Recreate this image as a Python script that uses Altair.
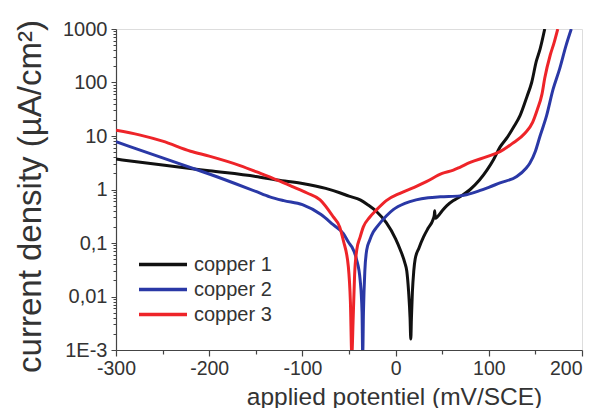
import altair as alt
import pandas as pd

series_names = ["copper 1", "copper 2", "copper 3"]
series_colors = ["#111111", "#2a38a6", "#ee2429"]

# copper 1 (black)
c1_mv = [-300, -250, -200, -150, -127, -100, -75, -60, -50, -38, -30, -20, -10, 0, 5, 10, 12, 14,
         15.5, 16.3, 17, 18, 19.5, 21, 25, 30, 35, 40, 41.5, 42, 42.5, 45, 50, 55, 62, 69, 80, 90,
         98, 105, 112, 120, 127, 133.5, 141, 146, 151, 155, 160]
c1_i = [3.7, 2.87, 2.24, 1.75, 1.5, 1.3, 1.05, 0.87, 0.75, 0.64, 0.52, 0.38, 0.24, 0.12, 0.075, 0.042,
        0.03, 0.012, 0.004, 0.0016, 0.004, 0.012, 0.03, 0.05, 0.08, 0.13, 0.19, 0.27, 0.33, 0.4, 0.29,
        0.31, 0.4, 0.5, 0.62, 0.73, 1.0, 1.5, 2.3, 3.6, 6.2, 9.5, 15, 24, 55, 100, 250, 420, 1000]

# copper 2 (blue)
c2_mv = [-300, -250, -207, -200, -150, -135, -120, -100, -80, -67, -56, -50, -47, -42, -38, -36,
         -35.3, -34.5, -33, -31, -28, -24, -20, -10, -2.5, 10, 22, 35, 48, 69, 76, 90, 100, 112, 130,
         140, 144, 150, 155, 162, 169, 176, 183, 188.5]
c2_i = [7.8, 3.9, 2.15, 1.95, 0.92, 0.73, 0.62, 0.52, 0.34, 0.22, 0.15, 0.1, 0.085, 0.05, 0.02, 0.005,
        0.0008, 0.005, 0.03, 0.074, 0.11, 0.16, 0.2, 0.32, 0.42, 0.55, 0.64, 0.7, 0.73, 0.76, 0.8, 0.95,
        1.1, 1.33, 1.75, 2.5, 3.1, 5.2, 10, 24, 75, 180, 500, 1000]

# copper 3 (red)
c3_mv = [-300, -275, -250, -220, -200, -167, -145, -127, -110, -95, -81, -67, -60, -56, -50.7, -48.5,
         -47, -45.5, -44, -41.7, -38, -34.6, -28, -20.3, -10, 4.7, 20, 33, 50, 62, 69, 80, 98, 112, 125,
         139, 147, 152, 157, 160, 166, 170, 174]
c3_i = [12.8, 10.5, 8.0, 5.2, 4.2, 2.8, 2.0, 1.5, 1.12, 0.86, 0.64, 0.31, 0.2, 0.11, 0.036, 0.008,
        0.0008, 0.004, 0.025, 0.074, 0.13, 0.2, 0.3, 0.42, 0.62, 0.85, 1.1, 1.4, 2.0, 2.3, 2.6, 3.2, 4.1,
        5.1, 7.2, 11.4, 18, 31, 60, 120, 330, 550, 1000]

x_ticks = [-300, -250, -200, -150, -100, -50, 0, 50, 100, 150, 200]
y_decades = [-3, -2, -1, 0, 1, 2, 3]
y_decade_labels = ["1E-3", "0,01", "0,1", "1", "10", "100", "1000"]
y_ticks = [m * 10.0 ** e for e in range(-3, 3) for m in range(1, 10)] + [1000.0]

rows = []
for name, xs, ys in zip(series_names, [c1_mv, c2_mv, c3_mv], [c1_i, c2_i, c3_i]):
    for k, (xv, yv) in enumerate(zip(xs, ys)):
        rows.append({"series": name, "potential": xv, "current": yv, "order": k})
df = pd.DataFrame(rows)

FONT = "Liberation Sans"
TXT = "#333333"

lg = "(log(datum.value)/LN10)"
is_decade = f"abs({lg} - round({lg})) < 0.001"
label_expr = "''"
for e, lab in zip(y_decades, y_decade_labels):
    label_expr = f"(round({lg}) == {e} ? '{lab}' : {label_expr})"
label_expr = f"({is_decade}) ? {label_expr} : ''"

x_major = "datum.value % 100 == 0"

chart = alt.Chart(df).mark_line(strokeWidth=3, clip=True, interpolate="monotone").encode(
    x=alt.X("potential:Q",
            scale=alt.Scale(domain=[-300, 200], nice=False, zero=False),
            axis=alt.Axis(values=x_ticks, labelExpr=f"{x_major} ? datum.value : ''",
                          tickSize={"condition": {"test": x_major, "value": 6}, "value": 4},
                          labelAlign={"condition": {"test": "datum.value == 200", "value": "right"},
                                      "value": "center"},
                          title="applied potentiel (mV/SCE)", titleFontSize=24.5, titleFont=FONT,
                          titleFontWeight="normal", titleColor=TXT, titleX=278, titleY=54,
                          titleBaseline="alphabetic", titleAnchor="middle", titleAlign="center",
                          labelFontSize=19.5, labelFont=FONT, labelColor=TXT, labelPadding=3,
                          labelOverlap=False, labelFlush=False,
                          grid=False, domainColor="#444444", tickColor="#444444",
                          domainWidth=1.2, tickWidth=1.2)),
    y=alt.Y("current:Q",
            scale=alt.Scale(type="log", domain=[0.001, 1000], nice=False),
            axis=alt.Axis(values=y_ticks, labelExpr=label_expr,
                          tickSize={"condition": {"test": is_decade, "value": 5}, "value": 3},
                          title="current density (µA/cm²)", titleFontSize=33, titleFont=FONT,
                          titleFontWeight="normal", titleColor=TXT, titleAngle=270,
                          titleX=-76, titleY=167, titleBaseline="alphabetic", titleAlign="center",
                          labelFontSize=20, labelFont=FONT, labelColor=TXT, labelPadding=4,
                          labelOverlap=False, labelFlush=False,
                          grid=False, domainColor="#444444", tickColor="#444444",
                          domainWidth=1.2, tickWidth=1.0)),
    color=alt.Color("series:N",
                    scale=alt.Scale(domain=series_names, range=series_colors),
                    legend=alt.Legend(orient="none", legendX=21, legendY=223, title=None,
                                      symbolType="stroke", symbolSize=2304, symbolStrokeWidth=3.5,
                                      clipHeight=25, rowPadding=0, padding=0, labelOffset=5,
                                      labelFontSize=20, labelFont=FONT, labelColor=TXT)),
    order="order:Q",
    detail="series:N",
).properties(
    width=466, height=321,
    autosize=alt.AutoSizeParams(type="none"),
    padding={"left": 108, "top": 21, "right": 8, "bottom": 58},
).configure_view(stroke=None).configure(background="white")

chart.save("out.html", embed_options={"renderer": "svg", "actions": False})
